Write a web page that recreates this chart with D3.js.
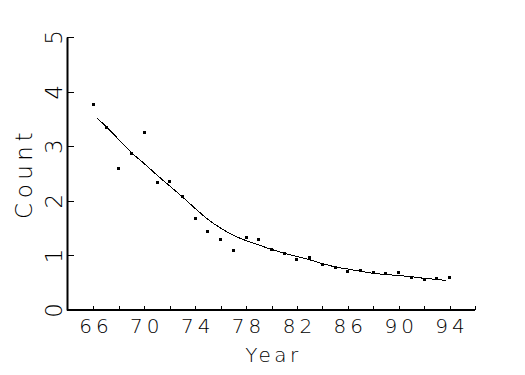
<!DOCTYPE html>
<html>
<head>
<meta charset="utf-8" />
<title>Count by year</title>
<script src="https://d3js.org/d3.v7.min.js"></script>
<style>
  body { margin: 0; padding: 0; background: #ffffff; }
  svg { display: block; }
  text { font-family: "DejaVu Sans", sans-serif; font-weight: 200; fill: #000; }
</style>
</head>
<body>
<div id="chart"></div>
<script>

// observed points
const years = [66, 67, 68, 69, 70, 71, 72, 73, 74, 75, 76, 77, 78, 79, 80,
  81, 82, 83, 84, 85, 86, 87, 88, 89, 90, 91, 92, 93, 94]
const counts = [3.76, 3.35, 2.60, 2.86, 3.26, 2.33, 2.36, 2.07, 1.67, 1.43, 1.30, 1.09, 1.32, 1.30, 1.11,
  1.03, 0.93, 0.97, 0.84, 0.78, 0.71, 0.72, 0.68, 0.67, 0.68, 0.60, 0.55, 0.57, 0.59]

// smoothed fit
const fitYears = [66.3, 67, 68, 69, 70, 71, 72, 73, 74, 75, 76, 77, 78, 79, 80,
  81, 82, 83, 84, 85, 86, 87, 88, 89, 90, 91, 92, 93, 93.7]
const fitValues = [3.51, 3.36, 3.12, 2.88, 2.68, 2.47, 2.27, 2.07, 1.86, 1.66, 1.50, 1.37, 1.27, 1.19, 1.11,
  1.04, 0.98, 0.92, 0.85, 0.79, 0.75, 0.71, 0.67, 0.65, 0.63, 0.61, 0.58, 0.56, 0.54]

const xTicks = [66, 68, 70, 72, 74, 76, 78, 80, 82, 84, 86, 88, 90, 92, 94, 96]
const xLabels = [66, 70, 74, 78, 82, 86, 90, 94]
const yTicks = [0, 1, 2, 3, 4, 5]

const W = 525, H = 375
const margin = {top: 37, right: 50, bottom: 65, left: 68}
const width = W - margin.left - margin.right
const height = H - margin.top - margin.bottom

const svg = d3.select("#chart").append("svg")
  .attr("width", W)
  .attr("height", H)

const g = svg.append("g")
  .attr("transform", "translate(" + margin.left + "," + margin.top + ")")

const x = d3.scaleLinear().domain([64, 96]).range([0, width])
const y = d3.scaleLinear().domain([0, 5]).range([height, 0])

// x axis
const xAxis = g.append("g")
  .attr("transform", "translate(0," + height + ")")
  .call(d3.axisBottom(x)
    .tickValues(xTicks)
    .tickSizeInner(-4)
    .tickSizeOuter(0)
    .tickFormat(d => xLabels.includes(d) ? d : ""))
xAxis.select(".domain").attr("stroke", "#000").attr("stroke-width", 2)
  .attr("d", "M-1,0H" + width)
xAxis.selectAll(".tick line").attr("stroke", "#000").attr("shape-rendering", "crispEdges")
xAxis.selectAll(".tick text")
  .attr("y", 23)
  .attr("dy", null)
  .attr("dx", 2)
  .style("font-size", "20px")
  .style("letter-spacing", "4px")
  .attr("font-family", null)

// y axis
const yAxis = g.append("g")
  .attr("transform", "translate(-1,0)")
  .call(d3.axisLeft(y)
    .tickValues(yTicks)
    .tickFormat(d3.format("d"))
    .tickSizeInner(-7)
    .tickSizeOuter(0))
yAxis.select(".domain").attr("stroke", "#000").attr("stroke-width", 2)
yAxis.selectAll(".tick line").attr("stroke", "#000").attr("shape-rendering", "crispEdges")
yAxis.selectAll(".tick text")
  .attr("x", null)
  .attr("dy", null)
  .attr("text-anchor", "middle")
  .attr("transform", "translate(-5,0) rotate(-90)")
  .style("font-size", "23px")
  .attr("font-family", null)

// axis titles
g.append("text")
  .attr("x", x(80) + 2)
  .attr("y", height + 52)
  .attr("text-anchor", "middle")
  .style("font-size", "20px")
  .style("letter-spacing", "3.5px")
  .text("Year")

g.append("text")
  .attr("transform", "translate(" + (32 - margin.left) + "," + (height / 2) + ") rotate(-90)")
  .attr("text-anchor", "middle")
  .style("font-size", "23px")
  .style("letter-spacing", "4.5px")
  .text("Count")

// fitted curve
const fit = fitYears.map((d, i) => ({year: d, value: fitValues[i]}))
g.append("path")
  .datum(fit)
  .attr("fill", "none")
  .attr("stroke", "#000")
  .attr("stroke-width", 1)
  .attr("shape-rendering", "crispEdges")
  .attr("d", d3.line()
    .x(d => x(d.year))
    .y(d => y(d.value))
    .curve(d3.curveCatmullRom))

// points
const pts = years.map((d, i) => ({year: d, value: counts[i]}))
g.selectAll("rect.pt")
  .data(pts)
  .enter()
  .append("rect")
    .attr("class", "pt")
    .attr("x", d => x(d.year) - 1.5)
    .attr("y", d => y(d.value) - 1.5)
    .attr("width", 3)
    .attr("height", 3)
    .attr("fill", "#000")
    .attr("shape-rendering", "crispEdges")

</script>
</body>
</html>
